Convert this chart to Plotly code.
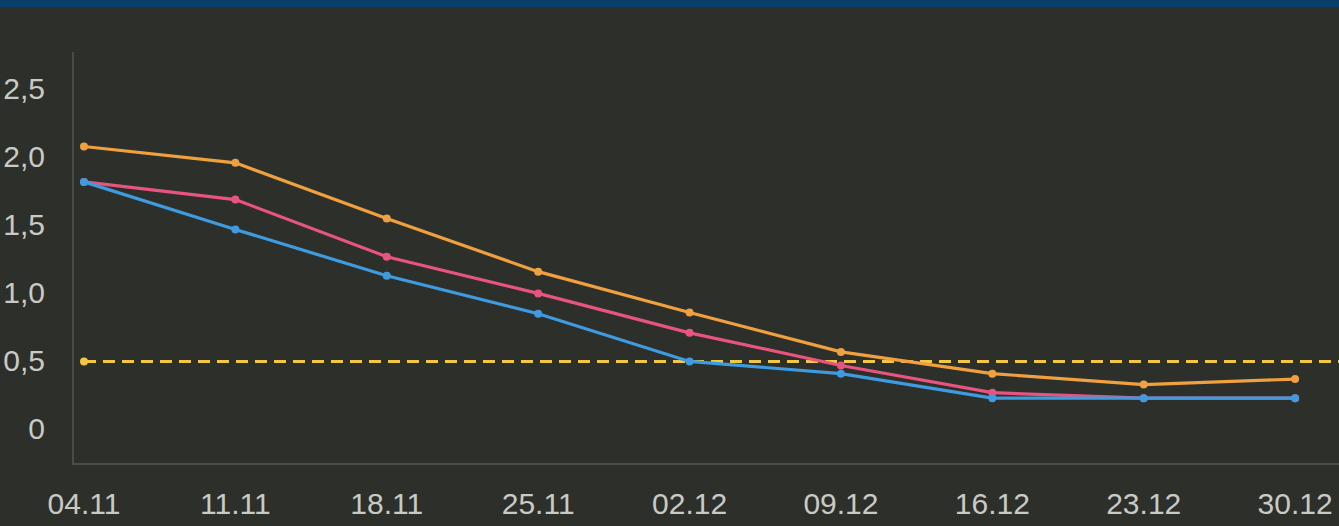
import plotly.graph_objects as go

dates = ["04.11", "11.11", "18.11", "25.11", "02.12", "09.12", "16.12", "23.12", "30.12"]
orange_vals = [2.07, 1.95, 1.54, 1.15, 0.85, 0.56, 0.40, 0.32, 0.36]
pink_vals = [1.81, 1.68, 1.26, 0.99, 0.70, 0.46, 0.26, 0.22, 0.22]
blue_vals = [1.81, 1.46, 1.12, 0.84, 0.49, 0.40, 0.22, 0.22, 0.22]
threshold = 0.49
y_ticks = [0, 0.5, 1.0, 1.5, 2.0, 2.5]
y_ticktext = ["0", "0,5", "1,0", "1,5", "2,0", "2,5"]

BG = "#2d2f2a"
AX = "#4a4d47"
TXT = "#c9cac6"

xs = list(range(len(dates)))
x_min, x_max = -0.066, 8.29

fig = go.Figure()

fig.add_shape(type="line", xref="x", yref="y", x0=0, x1=x_max, y0=threshold, y1=threshold,
              line=dict(color="#f2c744", width=3, dash="12px,7px"), layer="below")
fig.add_trace(go.Scatter(x=[xs[0]], y=[threshold], mode="markers",
                         marker=dict(color="#f2c744", size=8), showlegend=False))

fig.add_trace(go.Scatter(x=xs, y=orange_vals, mode="lines+markers",
                         line=dict(color="#f0a03e", width=3.2), marker=dict(size=8, color="#f0a03e"),
                         showlegend=False))
fig.add_trace(go.Scatter(x=xs, y=pink_vals, mode="lines+markers",
                         line=dict(color="#e8547e", width=3.2), marker=dict(size=8, color="#e8547e"),
                         showlegend=False))
fig.add_trace(go.Scatter(x=xs, y=blue_vals, mode="lines+markers",
                         line=dict(color="#3f9be0", width=3.2), marker=dict(size=8, color="#3f9be0"),
                         showlegend=False))

H_plot = 463 - 52
fig.add_shape(type="rect", xref="paper", yref="paper", x0=-1, x1=2,
              y0=1 + (52 - 7) / H_plot, y1=1 + 60 / H_plot,
              fillcolor="#0b3f6b", line=dict(width=0), layer="above")

fig.update_layout(
    width=1339, height=526,
    margin=dict(l=74, r=0, t=52, b=526 - 463),
    paper_bgcolor=BG, plot_bgcolor=BG,
    font=dict(family="Liberation Sans, Arial, sans-serif", size=30, color=TXT),
    xaxis=dict(range=[x_min, x_max], tickmode="array", tickvals=xs, ticktext=dates,
               showgrid=False, zeroline=False, showline=True, linecolor=AX, linewidth=2,
               ticks="outside", ticklen=13, tickcolor="rgba(0,0,0,0)",
               tickfont=dict(size=30, color=TXT)),
    yaxis=dict(range=[-0.257, 2.765], tickmode="array", tickvals=y_ticks, ticktext=y_ticktext,
               showgrid=False, zeroline=False, showline=True, linecolor=AX, linewidth=2,
               ticks="outside", ticklen=21, tickcolor="rgba(0,0,0,0)",
               tickfont=dict(size=30, color=TXT)),
)

fig.write_html("out.html", config={"displayModeBar": False},
               post_script="document.body.style.margin='0';document.body.style.overflow='hidden';document.body.style.background='%s';" % BG)
